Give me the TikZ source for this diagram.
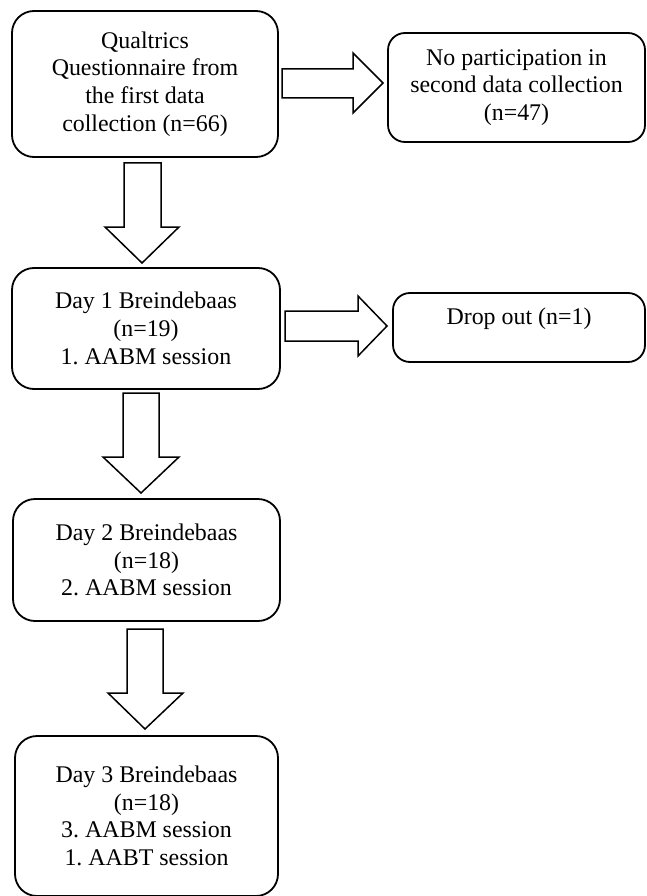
\documentclass[tikz,border=0pt]{standalone}
\usepackage{fontspec}
\setmainfont{Liberation Serif}
\frenchspacing
\begin{document}
\begin{tikzpicture}[x=1pt,y=-1pt,
  box/.style={draw=black, line width=1.8pt, rounded corners=22pt, align=center,
    font=\fontsize{23.9}{27.7}\selectfont, inner sep=0pt},
  sidebox/.style={box, rounded corners=17pt},
  blockarrow/.style={draw=black, line width=1.5pt, fill=white, line join=miter}]
\useasboundingbox (0,0) rectangle (647,896);
\node[box, minimum width=266pt, minimum height=146pt] (q) at (145,84)
  {Qualtrics\\Questionnaire from\\the first data\\collection (n=66)};
\node[sidebox, minimum width=257pt, minimum height=109pt] (np) at (516.5,87.5)
  {No participation in\\second data collection\\(n=47)};
\node[box, minimum width=268pt, minimum height=121pt] (d1) at (146,328.5)
  {Day 1 Breindebaas\\(n=19)\\1. AABM session};
\node[sidebox, minimum width=252pt, minimum height=69pt] (drop) at (519,327.5) {};
\node[font=\fontsize{23.9}{27.7}\selectfont] (droptext) at (519,319) {Drop out (n=1)};
\node[box, minimum width=267pt, minimum height=122pt] (d2) at (146.5,560)
  {Day 2 Breindebaas\\(n=18)\\2. AABM session};
\node[box, minimum width=263pt, minimum height=160pt] (d3) at (146.5,816)
  {Day 3 Breindebaas\\(n=18)\\3. AABM session\\1. AABT session};
% block arrows
\draw[blockarrow] (282,69) -- (353,69) -- (353,53) -- (383,83) -- (353,113) -- (353,98) -- (282,98) -- cycle;
\draw[blockarrow] (285,311) -- (358,311) -- (358,296) -- (387,326) -- (358,356) -- (358,341) -- (285,341) -- cycle;
\draw[blockarrow] (124,163) -- (161,163) -- (161,227) -- (179,227) -- (142,263) -- (105,227) -- (124,227) -- cycle;
\draw[blockarrow] (123,393) -- (159,393) -- (159,457) -- (179,457) -- (141,493) -- (103,457) -- (123,457) -- cycle;
\draw[blockarrow] (127,629) -- (163,629) -- (163,693) -- (183,693) -- (145,729) -- (108,693) -- (127,693) -- cycle;
\end{tikzpicture}
\end{document}
